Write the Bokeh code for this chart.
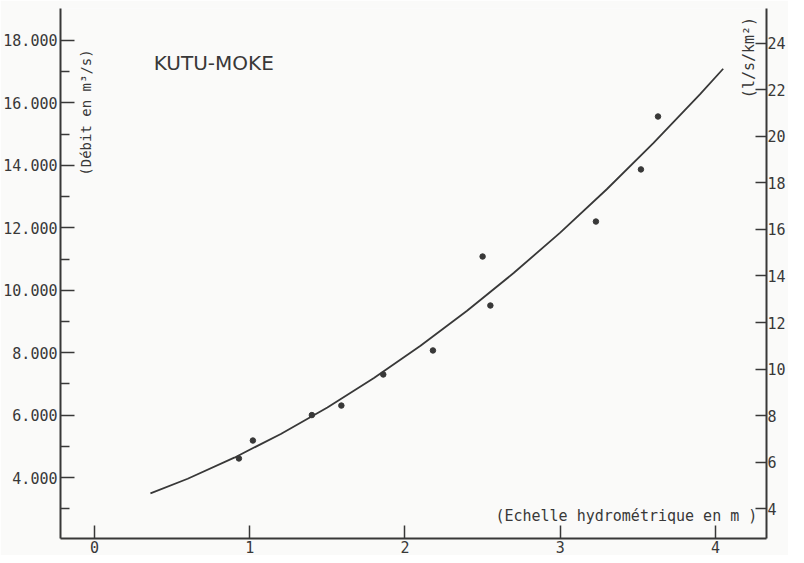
import numpy as np
from bokeh.plotting import figure
from bokeh.models import Range1d, LinearAxis, FixedTicker, Label
from bokeh.embed import file_html
from bokeh.resources import INLINE

# ---- data ----
stage_m = [0.93, 1.02, 1.40, 1.59, 1.86, 2.18, 2.50, 2.55, 3.23, 3.52, 3.63]
discharge_m3s = [4610, 5185, 6000, 6305, 7300, 8070, 11080, 9510, 12200, 13870, 15565]

curve_stage = [0.36, 0.6, 0.9, 1.2, 1.5, 1.8, 2.1, 2.4, 2.7, 3.0, 3.3, 3.6, 3.9, 4.05]
curve_discharge = [3490, 3960, 4635, 5395, 6245, 7190, 8220, 9340, 10550, 11845,
                   13235, 14710, 16275, 17095]

x_ticks = [0, 1, 2, 3, 4]
left_ticks = [4000, 6000, 8000, 10000, 12000, 14000, 16000, 18000]
left_tick_labels = ["4.000", "6.000", "8.000", "10.000", "12.000", "14.000", "16.000", "18.000"]
left_minor_ticks = [3000, 5000, 7000, 9000, 11000, 13000, 15000, 17000]
right_ticks = [4, 6, 8, 10, 12, 14, 16, 18, 20, 22, 24]

title_text = "KUTU-MOKE"
left_label_text = "(Débit en m³/s)"
right_label_text = "(l/s/km²)"
x_label_text = "(Echelle hydrométrique en m )"

# ---- styling ----
INK = "#383838"
BG = "#fafaf9"
MONO = "DejaVu Sans Mono"

p = figure(width=788, height=555, output_backend="svg", toolbar_location=None,
           x_range=Range1d(-0.2194, 4.329), y_range=Range1d(2046, 19025),
           min_border_left=55, min_border_top=8, min_border_right=0, min_border_bottom=0,
           background_fill_color=BG, border_fill_color=BG, outline_line_color=None)
p.grid.visible = False

p.extra_y_ranges = {"right": Range1d(2.710, 25.505)}

# x axis
xa = p.xaxis[0]
xa.ticker = FixedTicker(ticks=x_ticks)
xa.major_tick_in = 13
xa.major_tick_out = 0
xa.minor_tick_line_color = None
xa.major_label_standoff = 2

# left axis
ya = p.yaxis[0]
ya.ticker = FixedTicker(ticks=left_ticks, minor_ticks=left_minor_ticks)
ya.major_label_overrides = {t: l for t, l in zip(left_ticks, left_tick_labels)}
ya.major_tick_in = 14
ya.major_tick_out = 0
ya.minor_tick_in = 9
ya.minor_tick_out = 0
ya.major_label_standoff = 3

# right axis
ra = LinearAxis(y_range_name="right", ticker=FixedTicker(ticks=right_ticks))
ra.major_tick_in = 11
ra.major_tick_out = 0
ra.minor_tick_line_color = None
ra.major_label_standoff = 1
p.add_layout(ra, "right")

for ax in [xa, ya, ra]:
    ax.axis_line_color = INK
    ax.axis_line_width = 2
    ax.major_tick_line_color = INK
    ax.major_tick_line_width = 1.5
    ax.minor_tick_line_width = 1.5
    ax.major_label_text_font = MONO
    ax.major_label_text_font_size = "15px"
    ax.major_label_text_color = INK
ya.minor_tick_line_color = INK
ya.major_label_orientation = "horizontal"
ra.major_label_orientation = "horizontal"

# curve and points
p.line(curve_stage, curve_discharge, line_color=INK, line_width=1.8)
p.scatter(stage_m, discharge_m3s, size=5.5, color=INK)

# texts
p.add_layout(Label(x=0.768, y=17295, text=title_text, text_font="DejaVu Sans",
                   text_font_size="20px", text_color=INK,
                   text_align="center", text_baseline="middle"))
p.add_layout(Label(x=-0.052, y=15693, text=left_label_text, text_font=MONO,
                   text_font_size="14px", text_color=INK, angle=np.pi / 2,
                   text_align="center", text_baseline="middle"))
p.add_layout(Label(x=4.219, y=17455, text=right_label_text, text_font=MONO,
                   text_font_size="15px", text_color=INK, angle=np.pi / 2,
                   text_align="center", text_baseline="middle"))
p.add_layout(Label(x=3.426, y=2751, text=x_label_text, text_font=MONO,
                   text_font_size="15px", text_color=INK,
                   text_align="center", text_baseline="middle"))

open("out.html", "w").write(file_html(p, INLINE))
